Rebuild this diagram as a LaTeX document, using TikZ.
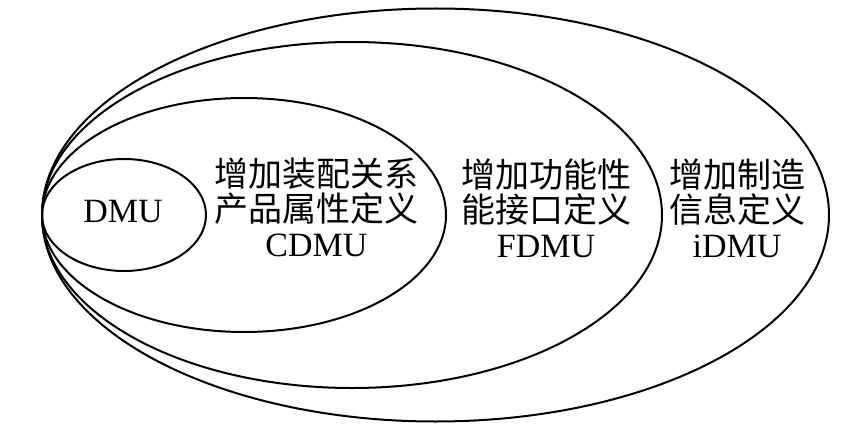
\documentclass[tikz,border=0pt]{standalone}
\usepackage{fontspec}
\setmainfont{Liberation Serif}
\newfontfamily\cjk{Noto Sans CJK SC}
\usetikzlibrary{shapes.geometric}
\begin{document}
\begin{tikzpicture}[x=1pt,y=-1pt,
  ring/.style={ellipse,draw=black,line width=2pt,inner sep=0pt,minimum width=#1},
  lbl/.style={align=center,font=\fontsize{34}{35}\selectfont,inner sep=0pt}]
\useasboundingbox (0,0) rectangle (854,436);
\node[ring=787pt,minimum height=413pt] (idmu) at (435.5,215) {};
\node[ring=620pt,minimum height=346pt] (fdmu) at (352,215) {};
\node[ring=404pt,minimum height=234pt] (cdmu) at (244,215) {};
\node[ring=164pt,minimum height=112pt] (dmu) at (124,215) {};
\node[lbl] (tdmu) at (123,212) {DMU};
\node[lbl] (tcdmu) at (316.5,207) {{\cjk 增加装配关系}\\{\cjk 产品属性定义}\\CDMU};
\node[lbl] (tfdmu) at (546,208) {{\cjk 增加功能性}\\{\cjk 能接口定义}\\FDMU};
\node[lbl] (tidmu) at (737,208) {{\cjk 增加制造}\\{\cjk 信息定义}\\iDMU};
\end{tikzpicture}
\end{document}
